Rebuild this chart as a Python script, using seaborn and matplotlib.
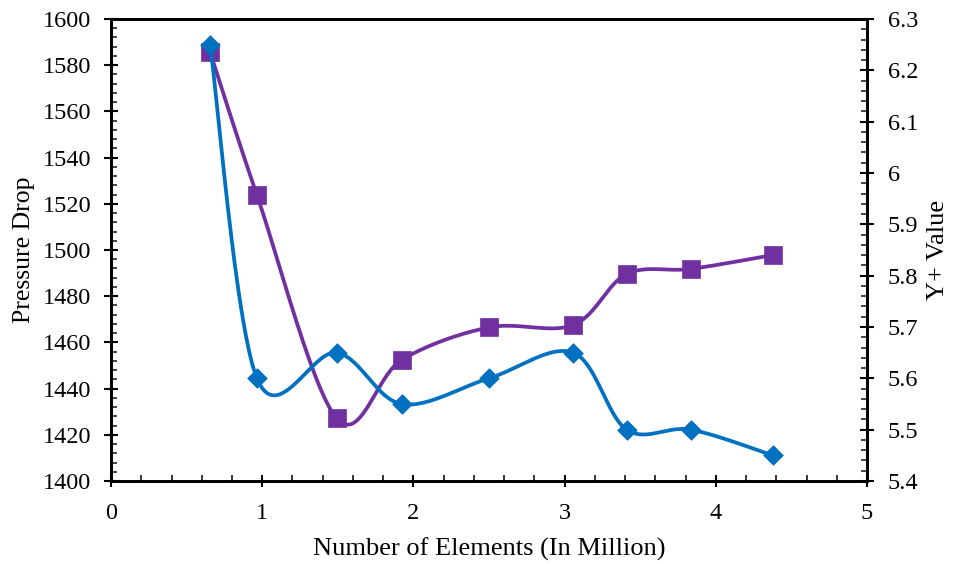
import numpy as np
import pandas as pd
import matplotlib
matplotlib.use("Agg")
import matplotlib.pyplot as plt
from matplotlib.ticker import MultipleLocator
import seaborn as sns

# Mesh sizes and results
elements = [0.655, 0.965, 1.493, 1.922, 2.50, 3.057, 3.41, 3.833, 4.376]
pressure_drop = [1585.7, 1523.8, 1427.1, 1452.4, 1466.5, 1467.5, 1489.6, 1491.8, 1497.8]
y_plus = [6.25, 5.60, 5.65, 5.55, 5.60, 5.65, 5.50, 5.50, 5.45]

BLUE = "#0070C0"
PURPLE = "#7030A0"

sns.set_theme(style="white")
plt.rcParams["font.family"] = ["Liberation Serif", "DejaVu Serif"]


def smooth(xs, ys, n=40):
    """Cubic Bezier through the points with Catmull-Rom style tangents."""
    p = np.column_stack([xs, ys]).astype(float)
    ext = np.vstack([p[0], p, p[-1]])
    out = []
    t = np.linspace(0, 1, n)[:, None]
    for i in range(len(p) - 1):
        p0, p1, p2, p3 = ext[i], ext[i + 1], ext[i + 2], ext[i + 3]
        c1 = p1 + (p2 - p0) / 6.0
        c2 = p2 - (p3 - p1) / 6.0
        seg = ((1 - t) ** 3) * p1 + 3 * ((1 - t) ** 2) * t * c1 + 3 * (1 - t) * t ** 2 * c2 + t ** 3 * p2
        out.append(seg if i == 0 else seg[1:])
    s = np.vstack(out)
    return s[:, 0], s[:, 1]


fig = plt.figure(figsize=(9.58, 5.64), dpi=100)
ax = fig.add_axes([0.1159, 0.1472, 0.7891, 0.8191])
ax2 = ax.twinx()

# Pressure drop on the left axis
sx, sy = smooth(elements, pressure_drop)
sns.lineplot(x=sx, y=sy, sort=False, estimator=None, ax=ax, color=PURPLE, linewidth=2.7)
sns.scatterplot(x=elements, y=pressure_drop, ax=ax, marker="s", s=150, color=PURPLE,
                edgecolor=PURPLE, linewidth=0.5, zorder=3)

# Y+ on the right axis
bx, by = smooth(elements, y_plus)
sns.lineplot(x=bx, y=by, sort=False, estimator=None, ax=ax2, color=BLUE, linewidth=2.7)
sns.scatterplot(x=elements, y=y_plus, ax=ax2, marker="D", s=100, color=BLUE,
                edgecolor=BLUE, linewidth=0.5, zorder=3)

ax.set_xlim(0, 5)
ax.set_ylim(1400, 1600)
ax2.set_ylim(5.4, 6.3)

ax.xaxis.set_major_locator(MultipleLocator(1))
ax.xaxis.set_minor_locator(MultipleLocator(0.2))
ax.yaxis.set_major_locator(MultipleLocator(20))
ax.yaxis.set_minor_locator(MultipleLocator(4))
ax2.yaxis.set_major_locator(MultipleLocator(0.1))
ax2.yaxis.set_minor_locator(MultipleLocator(0.02))
ax2.yaxis.set_major_formatter(plt.FuncFormatter(lambda v, _: f"{v:g}"))

fs = 17.5
ax.tick_params(axis="y", which="major", direction="inout", length=10, width=1.5,
               labelsize=fs, colors="black", left=True, pad=9.4)
ax.tick_params(axis="y", which="minor", direction="in", length=4.5, width=1.2, left=True)
ax.tick_params(axis="x", which="major", direction="inout", length=8, width=1.5,
               labelsize=fs, colors="black", bottom=True, pad=12)
ax.tick_params(axis="x", which="minor", direction="in", length=4, width=1.3, bottom=True)
ax2.tick_params(axis="y", which="major", direction="inout", length=10, width=1.5,
                labelsize=fs, colors="black", right=True, pad=10)
ax2.tick_params(axis="y", which="minor", direction="in", length=4.5, width=1.2, right=True)

for a in (ax, ax2):
    for sp in a.spines.values():
        sp.set_color("black")
        sp.set_linewidth(2)

ax.set_xlabel("Number of Elements (In Million)", fontsize=19, color="black", labelpad=10)
ax.set_ylabel("Pressure Drop", fontsize=18.5, color="black", labelpad=5)
ax2.set_ylabel("Y+ Value", fontsize=19, color="black", labelpad=6)

fig.savefig("out.png", dpi=100, facecolor="white")
